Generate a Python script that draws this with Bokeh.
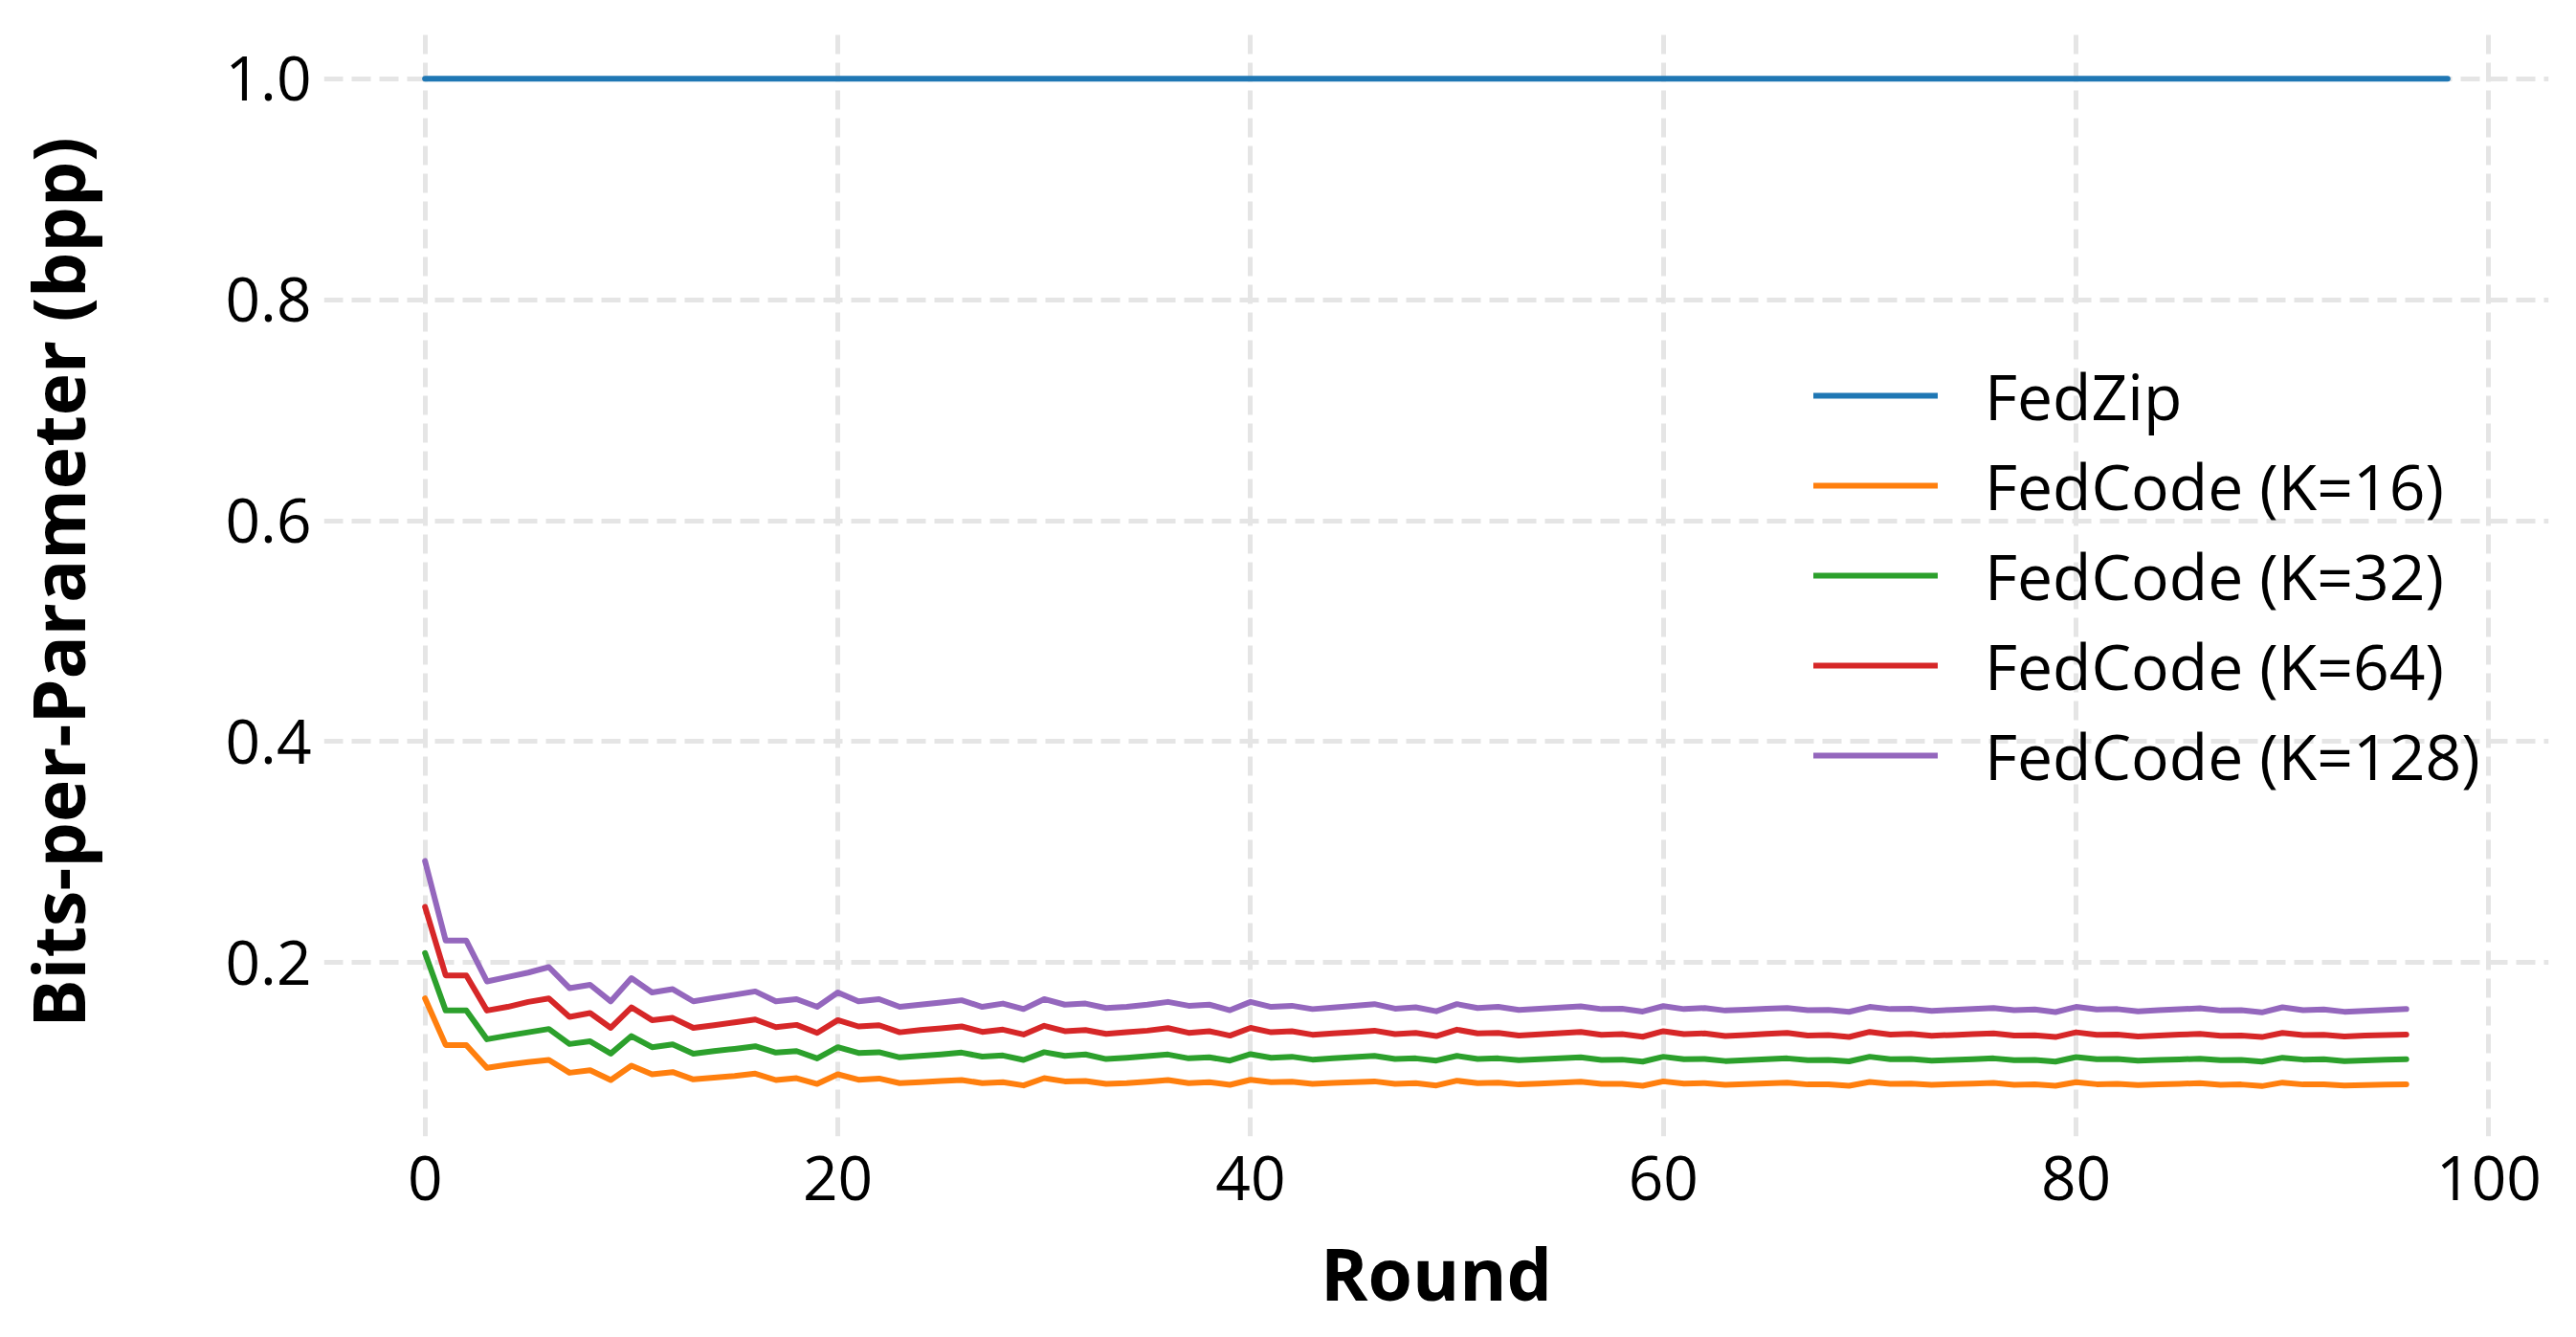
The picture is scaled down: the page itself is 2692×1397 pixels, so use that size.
from bokeh.plotting import figure
from bokeh.models import Range1d, FixedTicker, Legend, LegendItem, NumeralTickFormatter
from bokeh.embed import file_html
from bokeh.resources import INLINE

rounds_fedzip = list(range(0, 99))
fedzip = [1.0] * 99

rounds = list(range(0, 97))

k16 = [0.1677, 0.1255, 0.1255, 0.1048, 0.1076, 0.1100, 0.1120, 0.1004, 0.1027, 0.0938,
       0.1068, 0.0990, 0.1010, 0.0944, 0.0960, 0.0975, 0.0996, 0.0938, 0.0955, 0.0903,
       0.0990, 0.0941, 0.0952, 0.0910, 0.0918, 0.0930, 0.0938, 0.0910, 0.0918, 0.0889,
       0.0955, 0.0926, 0.0930, 0.0903, 0.0910, 0.0923, 0.0938, 0.0910, 0.0918, 0.0895,
       0.0940, 0.0918, 0.0923, 0.0903, 0.0911, 0.0918, 0.0926, 0.0903, 0.0910, 0.0889,
       0.0932, 0.0910, 0.0915, 0.0898, 0.0906, 0.0915, 0.0923, 0.0903, 0.0903, 0.0886,
       0.0926, 0.0906, 0.0910, 0.0895, 0.0902, 0.0908, 0.0915, 0.0898, 0.0900, 0.0886,
       0.0920, 0.0903, 0.0906, 0.0895, 0.0901, 0.0906, 0.0912, 0.0895, 0.0898, 0.0886,
       0.0918, 0.0900, 0.0903, 0.0892, 0.0898, 0.0904, 0.0910, 0.0895, 0.0898, 0.0883,
       0.0915, 0.0898, 0.0900, 0.0889, 0.0893, 0.0897, 0.0900]

k32 = [0.2087, 0.1567, 0.1567, 0.1307, 0.1340, 0.1370, 0.1400, 0.1264, 0.1288, 0.1177,
       0.1336, 0.1235, 0.1260, 0.1177, 0.1200, 0.1220, 0.1244, 0.1186, 0.1200, 0.1134,
       0.1235, 0.1183, 0.1190, 0.1143, 0.1157, 0.1170, 0.1186, 0.1150, 0.1160, 0.1120,
       0.1190, 0.1157, 0.1170, 0.1128, 0.1140, 0.1154, 0.1169, 0.1134, 0.1143, 0.1114,
       0.1172, 0.1140, 0.1149, 0.1123, 0.1134, 0.1146, 0.1157, 0.1128, 0.1134, 0.1114,
       0.1157, 0.1128, 0.1134, 0.1117, 0.1126, 0.1135, 0.1143, 0.1120, 0.1123, 0.1105,
       0.1149, 0.1126, 0.1128, 0.1110, 0.1118, 0.1126, 0.1134, 0.1117, 0.1120, 0.1107,
       0.1149, 0.1126, 0.1128, 0.1114, 0.1120, 0.1127, 0.1134, 0.1117, 0.1120, 0.1105,
       0.1146, 0.1126, 0.1128, 0.1114, 0.1119, 0.1125, 0.1131, 0.1117, 0.1120, 0.1105,
       0.1140, 0.1123, 0.1126, 0.1110, 0.1116, 0.1121, 0.1126]

k64 = [0.2505, 0.1885, 0.1885, 0.1567, 0.1600, 0.1645, 0.1677, 0.1510, 0.1544, 0.1410,
       0.1596, 0.1480, 0.1500, 0.1410, 0.1434, 0.1460, 0.1486, 0.1417, 0.1437, 0.1365,
       0.1480, 0.1423, 0.1434, 0.1370, 0.1390, 0.1405, 0.1423, 0.1374, 0.1394, 0.1350,
       0.1429, 0.1380, 0.1390, 0.1356, 0.1370, 0.1385, 0.1408, 0.1365, 0.1380, 0.1340,
       0.1410, 0.1370, 0.1380, 0.1348, 0.1360, 0.1372, 0.1385, 0.1354, 0.1365, 0.1336,
       0.1394, 0.1360, 0.1365, 0.1340, 0.1351, 0.1362, 0.1374, 0.1348, 0.1354, 0.1330,
       0.1380, 0.1354, 0.1360, 0.1336, 0.1346, 0.1356, 0.1365, 0.1340, 0.1345, 0.1328,
       0.1374, 0.1350, 0.1356, 0.1339, 0.1346, 0.1353, 0.1360, 0.1340, 0.1342, 0.1327,
       0.1370, 0.1348, 0.1350, 0.1333, 0.1341, 0.1349, 0.1356, 0.1339, 0.1340, 0.1327,
       0.1365, 0.1345, 0.1348, 0.1333, 0.1340, 0.1345, 0.1350]

k128 = [0.2920, 0.2200, 0.2200, 0.1830, 0.1870, 0.1910, 0.1960, 0.1770, 0.1800, 0.1650,
        0.1860, 0.1730, 0.1760, 0.1650, 0.1680, 0.1710, 0.1740, 0.1650, 0.1670, 0.1600,
        0.1730, 0.1650, 0.1670, 0.1600, 0.1620, 0.1640, 0.1660, 0.1600, 0.1630, 0.1580,
        0.1670, 0.1620, 0.1630, 0.1590, 0.1600, 0.1620, 0.1645, 0.1610, 0.1620, 0.1570,
        0.1645, 0.1600, 0.1610, 0.1580, 0.1595, 0.1610, 0.1625, 0.1584, 0.1596, 0.1560,
        0.1625, 0.1590, 0.1600, 0.1573, 0.1584, 0.1595, 0.1605, 0.1580, 0.1584, 0.1558,
        0.1607, 0.1580, 0.1590, 0.1567, 0.1575, 0.1583, 0.1590, 0.1570, 0.1573, 0.1555,
        0.1600, 0.1580, 0.1584, 0.1564, 0.1573, 0.1582, 0.1590, 0.1570, 0.1576, 0.1553,
        0.1600, 0.1576, 0.1580, 0.1560, 0.1570, 0.1578, 0.1587, 0.1567, 0.1570, 0.1550,
        0.1596, 0.1570, 0.1576, 0.1556, 0.1564, 0.1572, 0.1580]

labels = ["FedZip", "FedCode (K=16)", "FedCode (K=32)", "FedCode (K=64)", "FedCode (K=128)"]
colors = ["#1f77b4", "#ff7f0e", "#2ca02c", "#d62728", "#9467bd"]
x_ticks = [0, 20, 40, 60, 80, 100]
y_ticks = [0.2, 0.4, 0.6, 0.8, 1.0]

FONT = "Open Sans"

p = figure(frame_width=2325, frame_height=1158, output_backend="svg", toolbar_location=None,
           x_range=Range1d(-4.9, 102.9), y_range=Range1d(0.0427, 1.0456),
           min_border_left=338, min_border_right=13, min_border_top=29, min_border_bottom=194)
p.outline_line_color = None
p.background_fill_color = "white"
p.border_fill_color = "white"

series = [(rounds_fedzip, fedzip), (rounds, k16), (rounds, k32), (rounds, k64), (rounds, k128)]
items = []
for (xs, ys), lab, col in zip(series, labels, colors):
    r = p.line(xs, ys, line_color=col, line_width=6, line_cap="round", line_join="round")
    items.append(LegendItem(label=lab, renderers=[r]))

for ax in (p.xaxis[0], p.yaxis[0]):
    ax.axis_line_color = None
    ax.major_tick_line_color = None
    ax.minor_tick_line_color = None
    ax.major_tick_out = 0
    ax.major_tick_in = 0
    ax.minor_tick_out = 0
    ax.major_label_text_font = FONT
    ax.major_label_text_font_size = "64px"
    ax.major_label_text_color = "black"
    ax.axis_label_text_font = FONT
    ax.axis_label_text_font_style = "bold"
    ax.axis_label_text_font_size = "75px"
    ax.axis_label_text_color = "black"

p.xaxis.ticker = FixedTicker(ticks=x_ticks)
p.yaxis.ticker = FixedTicker(ticks=y_ticks)
p.yaxis.formatter = NumeralTickFormatter(format="0.0")
p.xaxis.axis_label = "Round"
p.yaxis.axis_label = "Bits-per-Parameter (bpp)"
p.xaxis.major_label_standoff = 20
p.yaxis.major_label_standoff = 13
p.xaxis.axis_label_standoff = 22
p.yaxis.axis_label_standoff = 122

for g in (p.xgrid[0], p.ygrid[0]):
    g.grid_line_color = "#e5e5e5"
    g.grid_line_width = 5
    g.grid_line_dash = "20 9"

legend = Legend(items=items, location=(1557, 353), orientation="vertical",
                background_fill_alpha=0, border_line_color=None,
                label_text_font=FONT, label_text_font_size="66px", label_text_color="black",
                glyph_width=130, glyph_height=80, label_height=80, spacing=4,
                label_standoff=49, padding=10, margin=0)
p.add_layout(legend, "center")

open("out.html", "w").write(file_html(p, INLINE))
